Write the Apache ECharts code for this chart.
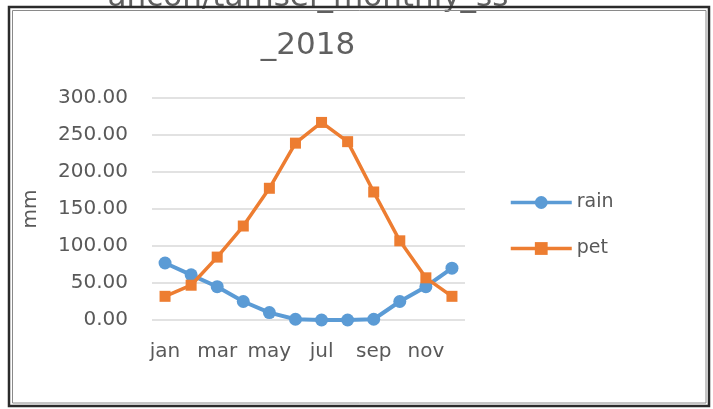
<!DOCTYPE html>
<html>
<head>
<meta charset="utf-8">
<script src="https://cdn.jsdelivr.net/npm/echarts@6/dist/echarts.min.js"></script>
<style>
  html, body { margin: 0; padding: 0; background: #fff; }
  #chart { width: 713px; height: 409px; }
</style>
</head>
<body>
<div id="chart"></div>
<script>
// Monthly rainfall and potential evapotranspiration, 2018 (mm)
const months = ['jan', 'feb', 'mar', 'apr', 'may', 'jun', 'jul', 'aug', 'sep', 'oct', 'nov', 'dec'];
const rain = [77, 61, 45, 25, 10, 1, 0, 0, 1, 25, 45, 70];
const pet = [32, 47, 85, 127, 178, 239, 267, 241, 173, 107, 57, 32];
const yTicks = { min: 0, max: 300, step: 50 };
const titleText = 'ancon/tamsel_monthly_ss\n_2018';

const TEXT = '#595959';
const FONT = 'DejaVu Sans';

const chart = echarts.init(document.getElementById('chart'), null, { renderer: 'canvas' });

chart.setOption({
  animation: false,
  backgroundColor: '#ffffff',
  title: {
    text: titleText,
    left: 308,
    top: -26,
    padding: 0,
    textAlign: 'center',
    textStyle: {
      color: '#606060',
      fontFamily: FONT,
      fontSize: 31,
      fontWeight: 'normal',
      lineHeight: 48
    }
  },
  graphic: [
    {
      type: 'rect',
      shape: { x: 9, y: 7, width: 700, height: 399 },
      style: { fill: null, stroke: '#2b2b2b', lineWidth: 2.5 },
      silent: true,
      z: 100
    },
    {
      type: 'rect',
      shape: { x: 12.5, y: 10.5, width: 693.5, height: 392.5 },
      style: { fill: null, stroke: '#8a8a8a', lineWidth: 1 },
      silent: true,
      z: 100
    }
  ],
  legend: {
    orient: 'vertical',
    left: 509,
    top: 193,
    padding: 0,
    itemWidth: 61,
    itemHeight: 16,
    itemGap: 27,
    lineStyle: { width: 3.5 },
    textStyle: { color: TEXT, fontFamily: FONT, fontSize: 19 },
    data: ['rain', 'pet']
  },
  grid: { left: 152, right: 248, top: 98, bottom: 89, containLabel: false },
  xAxis: {
    type: 'category',
    data: months,
    boundaryGap: true,
    axisLine: { show: false },
    axisTick: { show: false },
    axisLabel: {
      interval: 1,
      margin: 22,
      color: TEXT,
      fontFamily: FONT,
      fontSize: 20
    }
  },
  yAxis: {
    type: 'value',
    min: yTicks.min,
    max: yTicks.max,
    interval: yTicks.step,
    name: 'mm',
    nameLocation: 'middle',
    nameGap: 111,
    nameTextStyle: { color: TEXT, fontFamily: FONT, fontSize: 20 },
    axisLine: { show: false },
    axisTick: { show: false },
    axisLabel: {
      margin: 24,
      color: TEXT,
      fontFamily: FONT,
      fontSize: 20,
      formatter: v => v.toFixed(2)
    },
    splitLine: { lineStyle: { color: '#d9d9d9', width: 1.5 } }
  },
  series: [
    {
      name: 'rain',
      type: 'line',
      data: rain,
      symbol: 'circle',
      symbolSize: 13,
      color: '#5b9bd5',
      lineStyle: { width: 4, color: '#5b9bd5' },
      itemStyle: { color: '#5b9bd5' },
      z: 2
    },
    {
      name: 'pet',
      type: 'line',
      data: pet,
      symbol: 'rect',
      symbolSize: 11,
      color: '#ed7d31',
      lineStyle: { width: 3.5, color: '#ed7d31' },
      itemStyle: { color: '#ed7d31' },
      z: 3
    }
  ]
});
</script>
</body>
</html>
